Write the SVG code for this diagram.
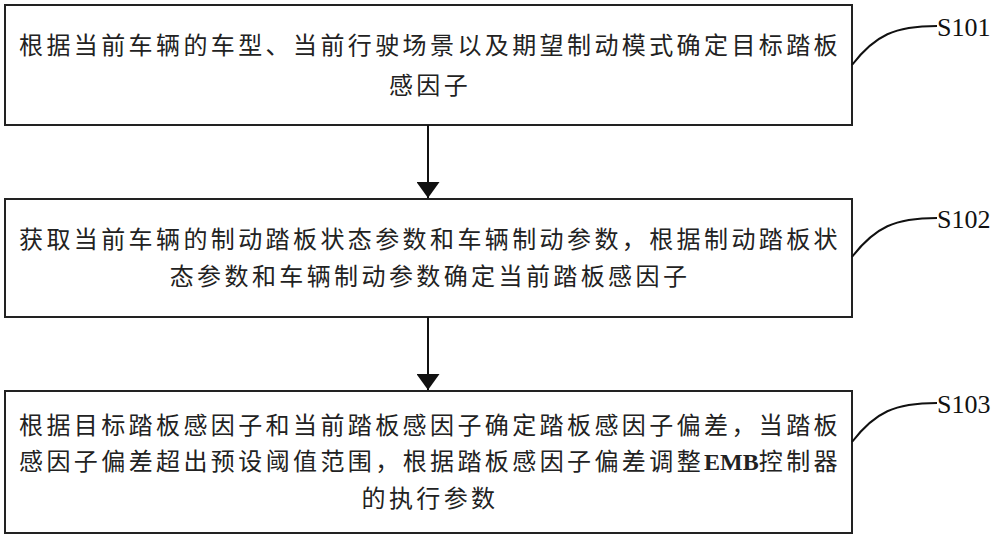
<svg xmlns="http://www.w3.org/2000/svg" width="1000" height="536" viewBox="0 0 1000 536">
<style>
.box{fill:#fff;stroke:#222;stroke-width:2}
.t{font-family:"Liberation Serif","Noto Sans CJK SC",serif;font-size:24px;fill:#222;letter-spacing:3.4px;text-anchor:middle}
.s{font-family:"Liberation Serif",serif;font-size:26px;fill:#111}
.c{fill:none;stroke:#111;stroke-width:2}
</style>
<defs><marker id="a" markerWidth="16" markerHeight="23" refX="16" refY="11.5" orient="auto" markerUnits="userSpaceOnUse"><path d="M0,0 L16,11.5 L0,23 Z" fill="#111"/></marker></defs>
<rect width="1000" height="536" fill="#fff"/>
<g id="n1"><rect class="box" x="5" y="5" width="847" height="120"/>
<text class="t" x="430" y="54">根据当前车辆的车型、当前行驶场景以及期望制动模式确定目标踏板</text>
<text class="t" x="430" y="94">感因子</text></g>
<g id="n2"><rect class="box" x="5" y="199" width="847" height="118"/>
<text class="t" x="430" y="248">获取当前车辆的制动踏板状态参数和车辆制动参数，根据制动踏板状</text>
<text class="t" x="430" y="285">态参数和车辆制动参数确定当前踏板感因子</text></g>
<g id="n3"><rect class="box" x="5" y="391" width="847" height="142"/>
<text class="t" x="430" y="434">根据目标踏板感因子和当前踏板感因子确定踏板感因子偏差，当踏板</text>
<text class="t" x="430" y="470">感因子偏差超出预设阈值范围，根据踏板感因子偏差调整<tspan font-weight="bold" letter-spacing="0">EMB</tspan>控制器</text>
<text class="t" x="430" y="507">的执行参数</text></g>
<g id="labels">
<text class="s" x="937" y="36">S101</text>
<text class="s" x="937" y="228">S102</text>
<text class="s" x="937" y="413">S103</text>
</g>
<g id="connectors">
<line class="c" x1="428" y1="125" x2="428" y2="198" marker-end="url(#a)"/>
<line class="c" x1="428" y1="317" x2="428" y2="390" marker-end="url(#a)"/>
<path class="c" d="M852,65 C875,35 895,26 937,26"/>
<path class="c" d="M852,257 C875,227 895,218 937,218"/>
<path class="c" d="M852,442 C875,412 895,403 937,403"/>
</g>
</svg>
